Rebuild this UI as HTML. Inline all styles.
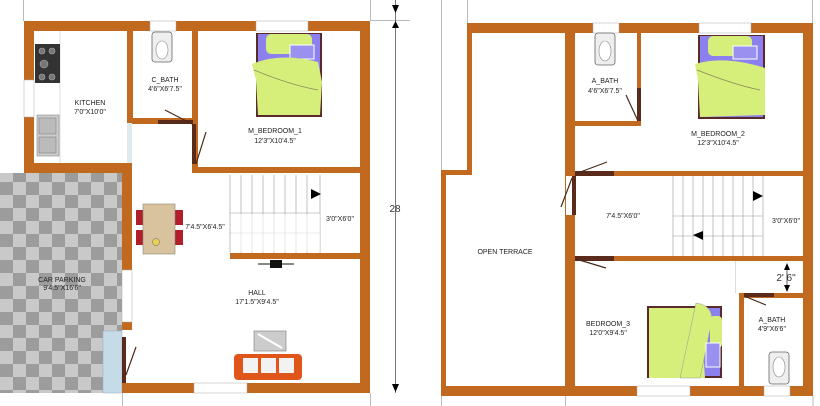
<!DOCTYPE html>
<html><head><style>html,body{margin:0;padding:0;background:#fff;width:820px;height:406px;overflow:hidden}</style></head>
<body>
<svg width="820" height="406" viewBox="0 0 820 406" xmlns="http://www.w3.org/2000/svg" font-family="Liberation Sans, sans-serif">
<defs>
<pattern id="chk" width="26" height="26" patternUnits="userSpaceOnUse">
<rect width="26" height="26" fill="#c9c9c9"/><rect width="13" height="13" fill="#9c9c9c"/><rect x="13" y="13" width="13" height="13" fill="#9c9c9c"/>
</pattern>
<g id="win"><rect width="1" height="1" fill="#fff"/></g>
</defs>
<g stroke="#bbb" stroke-width="1" fill="none">
<line x1="23.5" y1="0" x2="23.5" y2="21"/><line x1="370.5" y1="0" x2="370.5" y2="21"/>
<line x1="122.5" y1="393" x2="122.5" y2="406"/><line x1="370.5" y1="393" x2="370.5" y2="406"/>
<line x1="441.5" y1="0" x2="441.5" y2="170"/><line x1="467.5" y1="0" x2="467.5" y2="23"/><line x1="812.5" y1="0" x2="812.5" y2="23"/>
<line x1="441.5" y1="396" x2="441.5" y2="406"/><line x1="565.5" y1="396" x2="565.5" y2="406"/><line x1="813" y1="396" x2="813" y2="406"/>
<line x1="370" y1="20.5" x2="410" y2="20.5"/>
</g>
<!-- LEFT PLAN -->
<rect x="0" y="173" width="122" height="220" fill="url(#chk)"/>
<rect x="103" y="331" width="19" height="62" fill="#c6dbe8" stroke="#9ab" stroke-width="0.5"/>
<g fill="#c0691f">
<rect x="24" y="21" width="346" height="10"/>
<rect x="24" y="21" width="10" height="152"/>
<rect x="360" y="21" width="10" height="372"/>
<rect x="122" y="383" width="248" height="10"/>
<rect x="24" y="163" width="108" height="10"/>
<rect x="122" y="163" width="10" height="107"/>
<rect x="122" y="322" width="10" height="8"/>
<rect x="127" y="31" width="6" height="92"/>
<rect x="127" y="118" width="66" height="6"/>
<rect x="192" y="31" width="6" height="142"/>
<rect x="192" y="167" width="168" height="6"/>
<rect x="230" y="253" width="130" height="6"/>
</g>
<g fill="#fff" stroke="#aaa" stroke-width="0.5">
<rect x="150" y="21" width="26" height="10"/><rect x="256" y="21" width="52" height="10"/>
<rect x="194" y="383" width="53" height="10"/><rect x="24" y="80" width="10" height="37"/>
<rect x="122" y="270" width="10" height="52"/>
</g>
<rect x="127" y="123" width="5" height="40" fill="#dfe9f0"/>
<rect x="158" y="120" width="35" height="4" fill="#5a2a1a"/>
<rect x="192" y="124" width="4" height="40" fill="#5a2a1a"/>
<line x1="165" y1="110" x2="192" y2="124" stroke="#4a2a1a" stroke-width="1.2"/>
<line x1="196" y1="164" x2="206" y2="132" stroke="#4a2a1a" stroke-width="1.2"/>
<rect x="122" y="337" width="4" height="46" fill="#5a2a1a"/>
<line x1="126" y1="375" x2="136" y2="347" stroke="#4a2a1a" stroke-width="1.2"/>
<!-- kitchen fixtures -->
<line x1="60" y1="31" x2="60" y2="163" stroke="#ccc" stroke-width="0.7"/>
<rect x="35" y="44" width="25" height="39" fill="#333"/>
<g fill="#777" stroke="#aaa" stroke-width="0.6"><circle cx="42" cy="51" r="3"/><circle cx="52" cy="51" r="3"/><circle cx="44" cy="64" r="4"/><circle cx="42" cy="77" r="3"/><circle cx="52" cy="77" r="3"/></g>
<rect x="37" y="115" width="22" height="41" fill="#ccc" stroke="#888" stroke-width="0.6"/>
<rect x="39" y="118" width="17" height="16" fill="#bbb" stroke="#777" stroke-width="0.5"/>
<rect x="39" y="137" width="17" height="16" fill="#bbb" stroke="#777" stroke-width="0.5"/>
<!-- toilet -->
<rect x="152" y="32" width="20" height="30" rx="3" fill="#eee" stroke="#666" stroke-width="0.8"/>
<ellipse cx="162" cy="50" rx="6" ry="9" fill="#fff" stroke="#888" stroke-width="0.6"/>
<!-- bed1 -->
<rect x="256" y="33" width="66" height="84" fill="#5a2a2a"/>
<rect x="258" y="34" width="62" height="81" fill="#8b80ee"/>
<rect x="266" y="34" width="46" height="20" rx="5" fill="#d6ee7a"/>
<rect x="290" y="45" width="24" height="14" fill="#9a90f0" stroke="#fff" stroke-width="1"/>
<path d="M252 64 Q280 52 318 62 L322 82 L320 115 L258 115 L256 80 Z" fill="#d6ee7a"/>
<path d="M254 70 Q290 85 318 90" stroke="#8a8a5a" stroke-width="0.8" fill="none"/>
<!-- stairs left -->
<g stroke="#999" stroke-width="0.6">
<line x1="230" y1="213" x2="320" y2="213"/><line x1="230" y1="233" x2="320" y2="233"/>
<line x1="230" y1="175" x2="230" y2="253"/><line x1="241" y1="175" x2="241" y2="253"/><line x1="252" y1="175" x2="252" y2="253"/><line x1="263" y1="175" x2="263" y2="253"/><line x1="274" y1="175" x2="274" y2="253"/><line x1="285" y1="175" x2="285" y2="253"/><line x1="296" y1="175" x2="296" y2="253"/><line x1="307" y1="175" x2="307" y2="253"/><line x1="320" y1="175" x2="320" y2="253"/>
</g>
<rect x="231" y="214" width="89" height="38" fill="#fff" opacity="0.6"/>
<polygon points="311,189 321,194 311,199" fill="#000"/>
<!-- dining -->
<rect x="136" y="210" width="10" height="15" fill="#b0202a"/><rect x="136" y="230" width="10" height="15" fill="#b0202a"/>
<rect x="173" y="210" width="10" height="15" fill="#b0202a"/><rect x="173" y="230" width="10" height="15" fill="#b0202a"/>
<rect x="143" y="204" width="32" height="50" fill="#d8c39e" stroke="#887" stroke-width="0.6"/>
<circle cx="156" cy="242" r="3.5" fill="#e8d050" stroke="#666" stroke-width="0.5"/>
<!-- tv -->
<line x1="258" y1="264" x2="294" y2="264" stroke="#888" stroke-width="2"/>
<rect x="270" y="260" width="12" height="8" fill="#111"/>
<!-- sofa -->
<rect x="254" y="331" width="32" height="20" fill="#ccc" stroke="#888" stroke-width="0.7"/>
<line x1="258" y1="334" x2="282" y2="348" stroke="#fff" stroke-width="2"/>
<rect x="234" y="354" width="68" height="26" rx="4" fill="#e0561a"/>
<rect x="243" y="358" width="15" height="15" fill="#f2f2f2"/><rect x="261" y="358" width="15" height="15" fill="#f2f2f2"/><rect x="279" y="358" width="15" height="15" fill="#f2f2f2"/>
<!-- dimension -->
<line x1="395.5" y1="0" x2="395.5" y2="393" stroke="#555" stroke-width="0.8"/>
<polygon points="392,5 399,5 395.5,13" fill="#000"/><polygon points="392,28 399,28 395.5,21" fill="#000"/>
<polygon points="392,384 399,384 395.5,392" fill="#000"/>
<text x="395" y="212" font-size="10" fill="#333" text-anchor="middle">28</text>
<g font-size="7" fill="#222" text-anchor="middle">
<text x="90" y="105">KITCHEN</text><text x="90" y="114">7'0"X10'0"</text>
<text x="165" y="82">C_BATH</text><text x="165" y="91">4'6"X6'7.5"</text>
<text x="275" y="133">M_BEDROOM_1</text><text x="275" y="143">12'3"X10'4.5"</text>
<text x="205" y="229">7'4.5"X6'4.5"</text><text x="340" y="221">3'0"X6'0"</text>
<text x="257" y="295">HALL</text><text x="257" y="304">17'1.5"X9'4.5"</text>
<text x="62" y="282">CAR PARKING</text><text x="62" y="290">9'4.5"X16'6"</text>
</g>
<!-- RIGHT PLAN -->
<g fill="#c0691f">
<rect x="467" y="23" width="346" height="10"/>
<rect x="467" y="23" width="5" height="152"/>
<rect x="441" y="170" width="31" height="5"/>
<rect x="441" y="170" width="5" height="226"/>
<rect x="441" y="386" width="372" height="10"/>
<rect x="803" y="23" width="10" height="373"/>
<rect x="565" y="23" width="10" height="363"/>
<rect x="637" y="33" width="4" height="92"/>
<rect x="575" y="121" width="66" height="5"/>
<rect x="575" y="171" width="238" height="5"/>
<rect x="575" y="256" width="238" height="5"/>
<rect x="740" y="293" width="63" height="5"/>
<rect x="739" y="293" width="5" height="93"/>
</g>
<rect x="566" y="176" width="9" height="39" fill="#fff"/>
<rect x="572" y="176" width="4" height="39" fill="#5a2a1a"/>
<rect x="575" y="171" width="39" height="5" fill="#5a2a1a"/>
<rect x="575" y="256" width="39" height="5" fill="#5a2a1a"/>
<rect x="637" y="88" width="4" height="33" fill="#5a2a1a"/>
<rect x="744" y="293" width="30" height="4" fill="#5a2a1a"/>
<line x1="575" y1="174" x2="607" y2="162" stroke="#4a2a1a" stroke-width="1.2"/>
<line x1="572" y1="178" x2="561" y2="207" stroke="#4a2a1a" stroke-width="1.2"/>
<line x1="576" y1="259" x2="606" y2="268" stroke="#4a2a1a" stroke-width="1.2"/>
<line x1="626" y1="95" x2="638" y2="121" stroke="#4a2a1a" stroke-width="1.2"/>
<line x1="744" y1="296" x2="766" y2="305" stroke="#4a2a1a" stroke-width="1.2"/>
<line x1="735.5" y1="261" x2="735.5" y2="293" stroke="#ccc" stroke-width="0.7"/>
<g fill="#fff" stroke="#aaa" stroke-width="0.5">
<rect x="593" y="23" width="26" height="10"/><rect x="699" y="23" width="52" height="10"/>
<rect x="637" y="386" width="53" height="10"/><rect x="764" y="386" width="26" height="10"/>
</g>
<!-- toilets right -->
<rect x="595" y="33" width="20" height="32" rx="3" fill="#eee" stroke="#666" stroke-width="0.8"/>
<ellipse cx="605" cy="51" rx="6" ry="10" fill="#fff" stroke="#888" stroke-width="0.6"/>
<rect x="769" y="352" width="20" height="32" rx="3" fill="#eee" stroke="#666" stroke-width="0.8"/>
<ellipse cx="779" cy="367" rx="6" ry="10" fill="#fff" stroke="#888" stroke-width="0.6"/>
<!-- bed2 -->
<rect x="698" y="35" width="67" height="84" fill="#5a2a2a"/>
<rect x="700" y="36" width="63" height="81" fill="#8b80ee"/>
<rect x="708" y="36" width="44" height="20" rx="5" fill="#d6ee7a"/>
<rect x="733" y="46" width="24" height="13" fill="#9a90f0" stroke="#fff" stroke-width="1"/>
<path d="M695 64 Q725 55 765 68 L765 115 L700 117 L698 80 Z" fill="#d6ee7a"/>
<path d="M697 70 Q735 85 760 90" stroke="#8a8a5a" stroke-width="0.8" fill="none"/>
<!-- bed3 -->
<rect x="647" y="306" width="75" height="72" fill="#5a2a2a"/>
<rect x="649" y="308" width="71" height="68" fill="#8b80ee"/>
<path d="M649 308 L700 308 L705 378 L649 378 Z" fill="#d6ee7a"/>
<path d="M696 303 Q712 305 712 320 L700 378 L680 378 Z" fill="#d6ee7a" stroke="#999" stroke-width="0.5"/>
<rect x="710" y="316" width="12" height="32" rx="4" fill="#d6ee7a"/>
<rect x="706" y="343" width="14" height="24" fill="#9a90f0" stroke="#fff" stroke-width="1"/>
<!-- stairs right -->
<g stroke="#999" stroke-width="0.6">
<line x1="673" y1="216" x2="763" y2="216"/><line x1="673" y1="236" x2="763" y2="236"/>
<line x1="673" y1="176" x2="673" y2="256"/><line x1="683" y1="176" x2="683" y2="256"/><line x1="693" y1="176" x2="693" y2="256"/><line x1="703" y1="176" x2="703" y2="256"/><line x1="713" y1="176" x2="713" y2="256"/><line x1="723" y1="176" x2="723" y2="256"/><line x1="733" y1="176" x2="733" y2="256"/><line x1="743" y1="176" x2="743" y2="256"/><line x1="753" y1="176" x2="753" y2="256"/><line x1="763" y1="176" x2="763" y2="256"/>
</g>
<polygon points="753,191 763,196 753,201" fill="#000"/>
<polygon points="703,231 693,235 703,240" fill="#000"/>
<line x1="787" y1="264" x2="787" y2="290" stroke="#333" stroke-width="0.8"/>
<polygon points="784,270 790,270 787,263" fill="#000"/><polygon points="784,285 790,285 787,292" fill="#000"/>
<text x="786" y="281" font-size="10" fill="#333" text-anchor="middle">2' 6"</text>
<g font-size="7" fill="#222" text-anchor="middle">
<text x="605" y="83">A_BATH</text><text x="605" y="93">4'6"X6'7.5"</text>
<text x="718" y="136">M_BEDROOM_2</text><text x="718" y="145">12'3"X10'4.5"</text>
<text x="623" y="218">7'4.5"X6'0"</text><text x="786" y="223">3'0"X6'0"</text>
<text x="505" y="254">OPEN TERRACE</text>
<text x="608" y="326">BEDROOM_3</text><text x="608" y="335">12'0"X9'4.5"</text>
<text x="772" y="322">A_BATH</text><text x="772" y="331">4'9"X6'6"</text>
</g>
</svg>
</body></html>
